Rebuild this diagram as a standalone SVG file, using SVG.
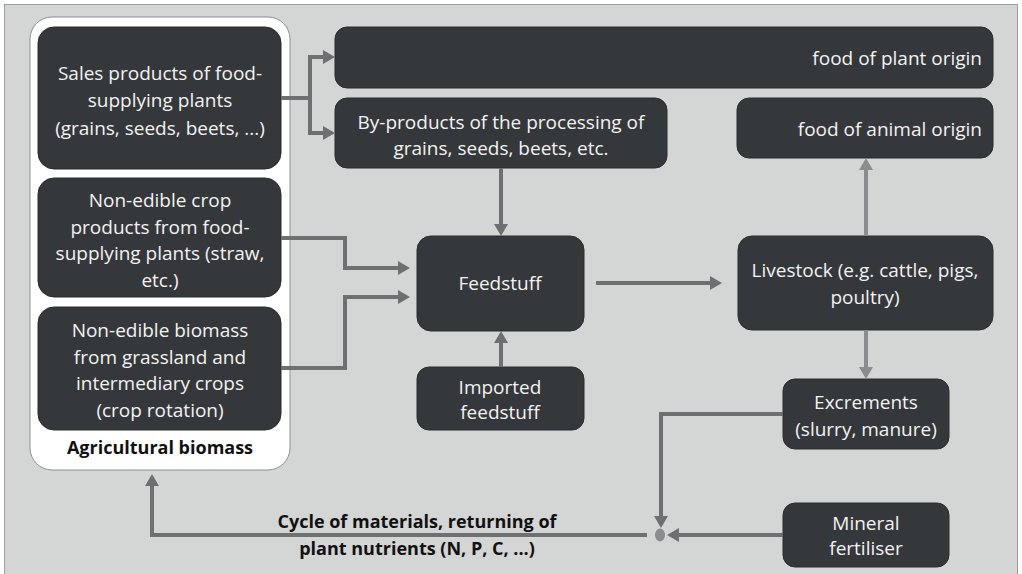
<svg xmlns="http://www.w3.org/2000/svg" width="1022" height="574" viewBox="0 0 1022 574">
<defs>
<style>
.box{fill:#35383b;stroke:#2a2c2e;stroke-width:1}
.t{font-family:"Open Sans","Liberation Sans",sans-serif;font-size:19px;fill:#f2f2f2;text-anchor:middle;dominant-baseline:central}
.r{text-anchor:end}
.b{font-family:"Open Sans","Liberation Sans",sans-serif;font-size:18px;font-weight:bold;fill:#111;text-anchor:middle;dominant-baseline:central}
.c{fill:none;stroke:#6e6f71;stroke-width:4;marker-end:url(#ah)}
.cl{fill:none;stroke:#8b8c8e;stroke-width:4;marker-end:url(#ahl)}
</style>
<marker id="ah" markerUnits="userSpaceOnUse" markerWidth="14" markerHeight="16" refX="8" refY="7" orient="auto"><path d="M0,0 L12,7 L0,14 z" fill="#6e6f71"/></marker>
<marker id="ahl" markerUnits="userSpaceOnUse" markerWidth="14" markerHeight="16" refX="8" refY="7" orient="auto"><path d="M0,0 L12,7 L0,14 z" fill="#8b8c8e"/></marker>
</defs>
<rect x="0" y="0" width="1022" height="574" fill="#ffffff"/>
<rect x="4.5" y="4.5" width="1013" height="572" fill="#d4d5d5" stroke="#9c9d9e" stroke-width="1"/>

<g id="agricultural-biomass">
<rect x="30" y="17" width="260" height="453" rx="22" fill="#ffffff" stroke="#8e8f90" stroke-width="1"/>
<text class="b" x="160" y="447">Agricultural biomass</text>
</g>

<g id="sales-products">
<rect class="box" x="38" y="27" width="243" height="142" rx="16"/>
<text class="t" x="160" y="73">Sales products of food-</text>
<text class="t" x="160" y="100">supplying plants</text>
<text class="t" x="160" y="128">(grains, seeds, beets, ...)</text>
</g>

<g id="non-edible-crop">
<rect class="box" x="38" y="178" width="243" height="119" rx="16"/>
<text class="t" x="160" y="200">Non-edible crop</text>
<text class="t" x="160" y="227">products from food-</text>
<text class="t" x="160" y="253">supplying plants (straw,</text>
<text class="t" x="160" y="280">etc.)</text>
</g>

<g id="non-edible-biomass">
<rect class="box" x="38" y="307" width="243" height="123" rx="16"/>
<text class="t" x="160" y="330">Non-edible biomass</text>
<text class="t" x="160" y="357">from grassland and</text>
<text class="t" x="160" y="383">intermediary crops</text>
<text class="t" x="160" y="410">(crop rotation)</text>
</g>

<g id="food-plant">
<rect class="box" x="335" y="27" width="658" height="61" rx="12"/>
<text class="t r" x="982" y="58">food of plant origin</text>
</g>

<g id="by-products">
<rect class="box" x="335" y="98" width="332" height="70" rx="12"/>
<text class="t" x="501" y="122">By-products of the processing of</text>
<text class="t" x="501" y="148">grains, seeds, beets, etc.</text>
</g>

<g id="food-animal">
<rect class="box" x="737" y="98" width="256" height="60" rx="12"/>
<text class="t r" x="982" y="129">food of animal origin</text>
</g>

<g id="feedstuff">
<rect class="box" x="417" y="236" width="167" height="95" rx="14"/>
<text class="t" x="500" y="283">Feedstuff</text>
</g>

<g id="imported-feedstuff">
<rect class="box" x="417" y="367" width="167" height="63" rx="12"/>
<text class="t" x="500" y="387">Imported</text>
<text class="t" x="500" y="412">feedstuff</text>
</g>

<g id="livestock">
<rect class="box" x="738" y="236" width="255" height="94" rx="14"/>
<text class="t" x="865" y="270">Livestock (e.g. cattle, pigs,</text>
<text class="t" x="865" y="297">poultry)</text>
</g>

<g id="excrements">
<rect class="box" x="783" y="379" width="166" height="70" rx="12"/>
<text class="t" x="866" y="402">Excrements</text>
<text class="t" x="866" y="429">(slurry, manure)</text>
</g>

<g id="mineral-fertiliser">
<rect class="box" x="783" y="503" width="166" height="64" rx="12"/>
<text class="t" x="866" y="523">Mineral</text>
<text class="t" x="866" y="548">fertiliser</text>
</g>

<g id="connectors">
<path class="c" d="M281,98 H310 V57 H331"/>
<path class="c" d="M310,98 V133 H331"/>
<path class="c" d="M501,168 V232"/>
<path class="c" d="M281,238 H345 V268 H406"/>
<path class="c" d="M281,368 H345 V297 H406"/>
<path class="c" d="M501,367 V335"/>
<path class="c" d="M596,283 H718"/>
<path class="cl" d="M866,236 V162"/>
<path class="cl" d="M866,330 V375"/>
<path class="c" d="M783,414 H661 V524"/>
<path class="c" d="M783,535 H671"/>
<path class="c" d="M647,535 H152 V478"/>
<ellipse cx="660" cy="535" rx="5" ry="6.5" fill="#8b8c8e"/>
<text class="b" x="417" y="521">Cycle of materials, returning of</text>
<text class="b" x="417" y="548">plant nutrients (N, P, C, ...)</text>
</g>
</svg>
